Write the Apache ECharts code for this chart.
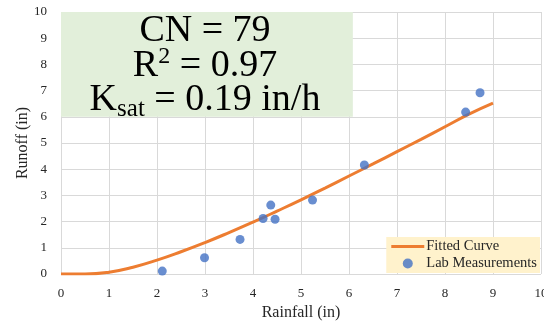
<!DOCTYPE html>
<html>
<head>
<meta charset="utf-8">
<script src="https://cdn.jsdelivr.net/npm/echarts@6/dist/echarts.min.js"></script>
<style>
  html, body { margin: 0; padding: 0; background: #fff; }
  #chart { width: 544px; height: 326px; }
</style>
</head>
<body>
<div id="chart"></div>
<script>
// fitted curve
const curveRain = [0, 0.5, 1, 1.5, 2, 2.5, 3, 3.5, 4, 4.5, 5, 5.5, 6, 6.5, 7, 7.5, 8, 8.5, 9];
const curveRunoff = [0, 0, 0.07, 0.26, 0.53, 0.85, 1.2, 1.58, 1.98, 2.4, 2.83, 3.28, 3.74, 4.2, 4.67, 5.14, 5.62, 6.1, 6.52];
// lab points
const labRain = [2.11, 2.99, 3.73, 4.21, 4.37, 4.46, 5.24, 6.32, 8.43, 8.73];
const labRunoff = [0.11, 0.62, 1.32, 2.12, 2.63, 2.09, 2.82, 4.16, 6.18, 6.92];
const xTicks = [0, 10, 1];
const yTicks = [0, 10, 1];
const seriesNames = ['Fitted Curve', 'Lab Measurements'];

const serif = '"Liberation Serif", "DejaVu Serif", serif';
const chart = echarts.init(document.getElementById('chart'));

chart.setOption({
  animation: false,
  grid: { left: 61, right: 3, top: 12, bottom: 52, outerBoundsMode: 'none' },
  xAxis: {
    type: 'value', min: xTicks[0], max: xTicks[1], interval: xTicks[2],
    name: 'Rainfall (in)', nameLocation: 'middle', nameGap: 31, nameMoveOverlap: false,
    nameTextStyle: { fontFamily: serif, fontSize: 16, color: '#262626' },
    axisLine: { show: false }, axisTick: { show: false },
    axisLabel: { fontFamily: serif, fontSize: 13, color: '#262626', margin: 13 },
    splitLine: { lineStyle: { color: '#d9d9d9', width: 1 } }
  },
  yAxis: {
    type: 'value', min: yTicks[0], max: yTicks[1], interval: yTicks[2],
    name: 'Runoff (in)', nameLocation: 'middle', nameGap: 30, nameRotate: 90, nameMoveOverlap: false,
    nameTextStyle: { fontFamily: serif, fontSize: 16, color: '#262626' },
    axisLine: { show: false }, axisTick: { show: false },
    axisLabel: { fontFamily: serif, fontSize: 13, color: '#262626', margin: 14 },
    splitLine: { lineStyle: { color: '#d9d9d9', width: 1 } }
  },
  legend: {
    orient: 'vertical', right: 4, bottom: 53,
    backgroundColor: '#fff2cc', padding: [2, 3, 2, 5], itemGap: 2,
    itemWidth: 33, itemHeight: 10,
    textStyle: { fontFamily: serif, fontSize: 14.5, color: '#262626', padding: [0, 0, 0, -3] },
    data: [
      { name: seriesNames[0], icon: 'path://M0,0L0,10L0.01,10L0.01,0ZM0,3.6L33,3.6L33,6.4L0,6.4Z' },
      { name: seriesNames[1], icon: 'circle' }
    ]
  },
  graphic: [{
    type: 'text', z: 10, x: 205, y: 14,
    style: {
      text: '{a|CN = 79}\n{a|R}{p|2}{a| = 0.97}\n{a|K}{s|sat}{a| = 0.19 in/h}',
      rich: {
        a: { fontFamily: serif, fontSize: 38, lineHeight: 34.5, fill: '#000' },
        p: { fontFamily: serif, fontSize: 24, lineHeight: 34.5, fill: '#000', padding: [0, 0, 18, 0] },
        s: { fontFamily: serif, fontSize: 25, lineHeight: 34.5, fill: '#000', padding: [18, 0, 0, 0] }
      },
      align: 'center', verticalAlign: 'top'
    }
  }],
  series: [{
    name: seriesNames[0], type: 'line', smooth: true, symbol: 'none',
    lineStyle: { color: '#ed7d31', width: 3 }, itemStyle: { color: '#ed7d31' },
    data: curveRain.map((p, i) => [p, curveRunoff[i]]),
    markArea: {
      silent: true, itemStyle: { color: '#e2efda' },
      data: [[{ coord: [0, 6] }, { coord: [6.08, 10] }]]
    },
    z: 3
  }, {
    name: seriesNames[1], type: 'scatter', symbol: 'circle', symbolSize: 9,
    itemStyle: { color: '#4472c4' },
    data: labRain.map((p, i) => [p, labRunoff[i]]),
    z: 4
  }]
});
</script>
</body>
</html>
